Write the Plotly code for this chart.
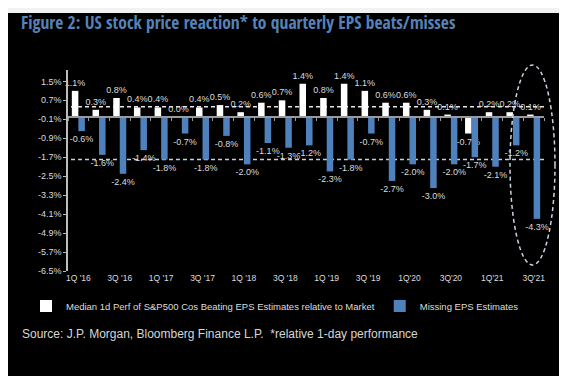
import plotly.graph_objects as go

quarters = ["1Q '16", "2Q '16", "3Q '16", "4Q '16",
            "1Q '17", "2Q '17", "3Q '17", "4Q '17",
            "1Q '18", "2Q '18", "3Q '18", "4Q '18",
            "1Q '19", "2Q '19", "3Q '19", "4Q '19",
            "1Q'20", "2Q'20", "3Q'20", "4Q'20",
            "1Q'21", "2Q'21", "3Q'21"]
beat_values = [1.1, 0.3, 0.8, 0.4, 0.4, 0.0, 0.4, 0.5, 0.2, 0.6, 0.7, 1.4,
               0.8, 1.4, 1.1, 0.6, 0.6, 0.3, 0.1, -0.7, 0.2, 0.2, 0.1]
miss_values = [-0.6, -1.6, -2.4, -1.4, -1.8, -0.7, -1.8, -0.8, -2.0, -1.1, -1.3, -1.2,
               -2.3, -1.8, -0.7, -2.7, -2.0, -3.0, -2.0, -1.7, -2.1, -1.2, -4.3]
avg_beat = 0.43
avg_miss = -1.8
y_ticks = [1.5, 0.7, -0.1, -0.9, -1.7, -2.5, -3.3, -4.1, -4.9, -5.7, -6.5]
y_range = [-6.5, 1.98]

beat_name = "Median 1d Perf of S&P500 Cos Beating EPS Estimates relative to Market"
miss_name = "Missing EPS Estimates"

BASE = "Liberation Sans, Arial, sans-serif"
TITLE_FONT = "Open Sans Condensed, Liberation Sans, Arial, sans-serif"
LABEL = "#dcdcdc"
BLUE = "#4f81bd"

W, H = 567, 376
ML, MR, MT, MB = 60, 31, 62, 113
PW, PH = W - ML - MR, H - MT - MB

def px_x(px):
    return (px - ML) / PW

def px_y(py):
    return (H - MB - py) / PH

fig = go.Figure()
fig.add_trace(go.Bar(
    x=quarters, y=beat_values, name=beat_name,
    marker=dict(color="#ffffff", line=dict(width=0)),
    texttemplate="%{y:.1f}%", textposition="outside", constraintext="none",
    outsidetextfont=dict(family=BASE, size=9, color=LABEL),
    cliponaxis=False,
))
fig.add_trace(go.Bar(
    x=quarters, y=miss_values, name=miss_name,
    marker=dict(color=BLUE, line=dict(width=0)),
    texttemplate="%{y:.1f}%", textposition="outside", constraintext="none",
    outsidetextfont=dict(family=BASE, size=9, color=LABEL),
    cliponaxis=False,
))
# invisible trace carrying the baseline axis (ticks on the zero line)
fig.add_trace(go.Scatter(x=quarters, y=beat_values, xaxis="x2", mode="none",
                         showlegend=False, hoverinfo="skip"))

zero_frac = (0 - y_range[0]) / (y_range[1] - y_range[0])

fig.update_layout(
    width=W, height=H,
    margin=dict(l=ML, r=MR, t=MT, b=MB, pad=0),
    paper_bgcolor="#000000", plot_bgcolor="#000000",
    barmode="group", bargap=0.37, bargroupgap=0,
    showlegend=True,
    title=dict(text="<b>Figure 2: US stock price reaction* to quarterly EPS beats/misses</b>",
               font=dict(family=TITLE_FONT, size=17.5, color="#5682b8"),
               xref="container", x=13 / W, xanchor="left",
               yref="container", y=1 - 15 / H, yanchor="middle"),
    xaxis=dict(type="category", categoryorder="array", categoryarray=quarters,
               range=[-0.5, len(quarters) - 0.5],
               tickvals=quarters[::2], ticktext=quarters[::2],
               showline=False, showgrid=False, zeroline=False, ticks="",
               tickfont=dict(family=BASE, size=8.5, color=LABEL)),
    xaxis2=dict(type="category", categoryorder="array", categoryarray=quarters,
                range=[-0.5, len(quarters) - 0.5],
                overlaying="x", anchor="free", position=zero_frac, side="bottom",
                showline=True, linecolor="#9a9a9a", linewidth=1.5,
                ticks="outside", ticklen=3, tickcolor="#9a9a9a", tickwidth=1,
                tickson="boundaries", showticklabels=False, showgrid=False, zeroline=False),
    yaxis=dict(range=y_range, tickvals=y_ticks,
               ticktext=[f"{v:.1f}%" for v in y_ticks],
               showgrid=False, zeroline=False,
               showline=True, linecolor="#bdbdbd", linewidth=1.5,
               ticks="outside", ticklen=3, tickcolor="#bdbdbd",
               tickfont=dict(family=BASE, size=9, color=LABEL)),
    legend=dict(orientation="h", x=px_x(18), xanchor="left",
                y=px_y(298), yanchor="middle",
                font=dict(family=BASE, size=9.5, color=LABEL),
                itemwidth=30, bgcolor="rgba(0,0,0,0)"),
    shapes=[
        dict(type="line", xref="paper", yref="y", x0=px_x(63), x1=1, y0=avg_beat, y1=avg_beat,
             line=dict(color="#e6e6e6", width=1.5, dash="4px,3px"), layer="below"),
        dict(type="line", xref="paper", yref="y", x0=px_x(63), x1=1, y0=avg_miss, y1=avg_miss,
             line=dict(color="#bcd0e8", width=1.5, dash="4px,3px"), layer="below"),
        dict(type="circle", xref="paper", yref="paper",
             x0=px_x(502), x1=px_x(547), y0=px_y(257), y1=px_y(57),
             line=dict(color="#c9d3e2", width=1.5, dash="4px,3px")),
        dict(type="rect", xref="paper", yref="paper", x0=px_x(0), x1=px_x(W),
             y0=px_y(5), y1=px_y(0), fillcolor="#f2f2f2", line=dict(width=0)),
    ],
    annotations=[
        dict(text="Source: J.P. Morgan, Bloomberg Finance L.P.  *relative 1-day performance",
             xref="paper", yref="paper", x=px_x(12), y=px_y(326),
             xanchor="left", yanchor="middle", showarrow=False,
             font=dict(family=BASE, size=12, color="#d6d6d6")),
    ],
)

fig.write_html("out.html")
